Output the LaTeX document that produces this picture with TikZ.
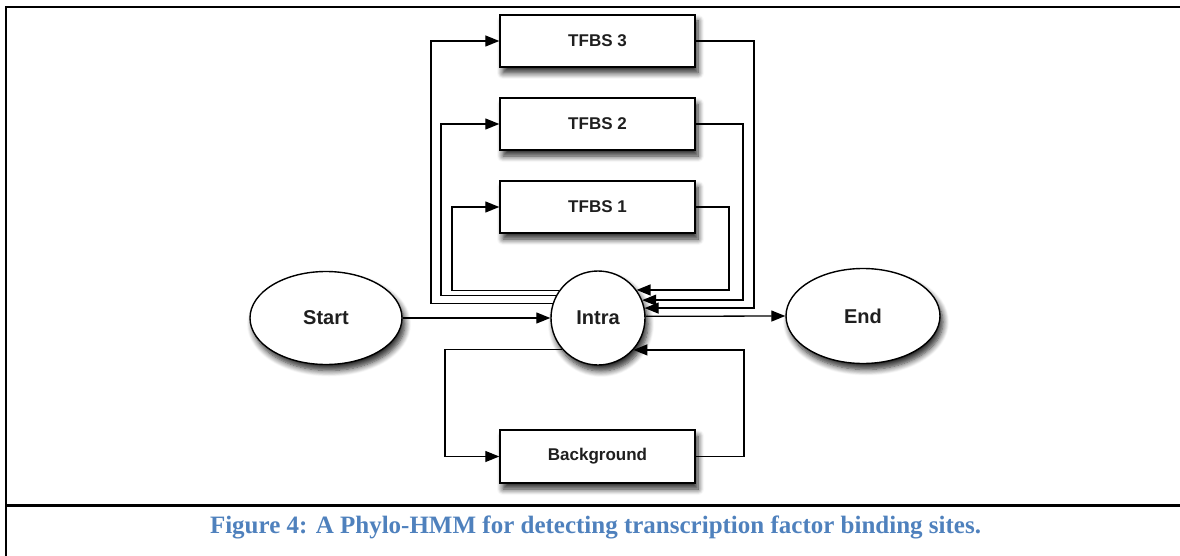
\documentclass[tikz,border=0pt]{standalone}
\usepackage{fontspec}
\setmainfont{Liberation Sans}
\newfontfamily\capfont{Liberation Serif}
\usetikzlibrary{shapes.geometric,arrows.meta,shadows.blur}
\definecolor{capblue}{RGB}{79,129,189}
\begin{document}
\begin{tikzpicture}[x=1pt,y=-1pt,
  state/.style={draw, line width=1.4pt, fill=white, text=black!88,
    blur shadow={shadow xshift=3pt, shadow yshift=-6pt,
                 shadow blur radius=6pt, shadow blur steps=8, shadow opacity=85}},
  stbox/.style={state, rectangle, minimum width=195pt, minimum height=52pt,
    inner sep=0pt, font=\fontsize{17}{20}\selectfont\bfseries},
  stoval/.style={state, ellipse, inner sep=0pt,
    font=\fontsize{20}{24}\selectfont\bfseries},
  stcirc/.style={state, circle, inner sep=0pt, minimum size=94pt,
    font=\fontsize{20}{24}\selectfont\bfseries},
  link/.style={line width=1.3pt, -{Triangle[length=14pt,width=11pt]}},
  frame/.style={line width=2.8pt}]
\useasboundingbox (0,0) rectangle (1180,556);

% page frame and caption rule
\draw[frame] (1180,7) -- (6,7) -- (6,556);
\draw[frame] (6,505.5) -- (1180,505.5);

% states
\node[stbox] (t3) at (597.5,41) {TFBS 3};
\node[stbox] (t2) at (597.5,124) {TFBS 2};
\node[stbox] (t1) at (597.5,207) {TFBS 1};
\node[stbox, minimum height=53pt] (bg) at (597.5,456.5) {Background};
\node[stcirc] (intra) at (598,318) {Intra};
\node[stoval, minimum width=152pt, minimum height=93pt] (start) at (326,318) {Start};
\node[stoval, minimum width=154pt, minimum height=95pt] (end) at (863,316) {End};

% routing columns
\coordinate (l3) at (431,0);
\coordinate (l2) at (441,0);
\coordinate (l1) at (452,0);
\coordinate (lb) at (445,0);
\coordinate (r1) at (729,0);
\coordinate (r2) at (743,0);
\coordinate (r3) at (754,0);
\coordinate (rb) at (744,0);

% entry and exit
\draw[link] (start.east) -- (intra.west);
\draw[link] (intra.2.4) -- (end.west);

% Intra -> TFBS k
\draw[link] (intra.162.7) -| (l3 |- t3.west) -- (t3.west);
\draw[link] (intra.152.1) -| (l2 |- t2.west) -- (t2.west);
\draw[link] (intra.145) -| (l1 |- t1.west) -- (t1.west);

% TFBS k -> Intra
\draw[link] (t1.east) -| (r1 |- intra.36.6) -- (intra.36.6);
\draw[link] (t2.east) -| (r2 |- intra.22.5) -- (intra.22.5);
\draw[link] (t3.east) -| (r3 |- intra.12.3) -- (intra.12.3);

% background loop
\draw[link] (intra.221.3) -| (lb |- bg.west) -- (bg.west);
\draw[link] (bg.east) -| (rb |- intra.318.7) -- (intra.318.7);

% caption
\node[text=capblue, font=\capfont\bfseries\fontsize{25}{28}\selectfont] (cap) at (595.5,527)
  {Figure 4: A Phylo-HMM for detecting transcription factor binding sites.};
\end{tikzpicture}
\end{document}
